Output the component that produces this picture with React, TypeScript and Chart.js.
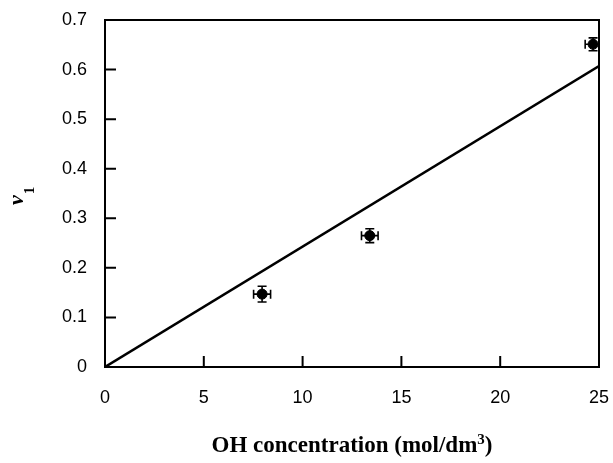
import React, { useEffect, useRef } from "react";
import { Chart, registerables } from "chart.js";

Chart.register(...registerables);

const xVals = [7.95, 13.4, 24.7];
const yVals = [0.147, 0.265, 0.651];
const xErr = [0.43, 0.42, 0.4];
const yErr = [0.016, 0.014, 0.013];
const fitX = [0, 25];
const fitY = [0, 0.607];
const xTicks = [0, 5, 10, 15, 20, 25];
const yTicks = [0, 0.1, 0.2, 0.3, 0.4, 0.5, 0.6, 0.7];
const xTitleMain = "OH concentration (mol/dm";
const xTitleSup = "3";
const xTitleEnd = ")";
const yTitleMain = "ν";
const yTitleSub = "1";

const framePlugin = {
  id: "frameAndTicks",
  afterDatasetsDraw(chart: any) {
    const { ctx, chartArea: a, scales } = chart;
    const xs = scales.x;
    const ys = scales.y;
    ctx.save();
    ctx.strokeStyle = "#000";
    ctx.lineWidth = 2;
    ctx.beginPath();
    ctx.rect(a.left, a.top, a.right - a.left, a.bottom - a.top);
    ctx.stroke();
    ctx.lineWidth = 2;
    ctx.beginPath();
    xTicks.forEach((t) => {
      if (t === xTicks[0] || t === xTicks[xTicks.length - 1]) return;
      const px = xs.getPixelForValue(t);
      ctx.moveTo(px, a.bottom);
      ctx.lineTo(px, a.bottom - 11);
    });
    yTicks.forEach((t) => {
      if (t === yTicks[0] || t === yTicks[yTicks.length - 1]) return;
      const py = ys.getPixelForValue(t);
      ctx.moveTo(a.left, py);
      ctx.lineTo(a.left + 11, py);
    });
    ctx.stroke();
    ctx.restore();
  },
};

const errorBarPlugin = {
  id: "errorBars",
  beforeDatasetsDraw(chart: any) {
    const { ctx, scales } = chart;
    const xs = scales.x;
    const ys = scales.y;
    ctx.save();
    ctx.strokeStyle = "#000";
    ctx.lineWidth = 1.6;
    const cap = 4.5;
    xVals.forEach((xv, i) => {
      const yv = yVals[i];
      const px = xs.getPixelForValue(xv);
      const py = ys.getPixelForValue(yv);
      const x0 = xs.getPixelForValue(xv - xErr[i]);
      const x1 = Math.min(xs.getPixelForValue(xv + xErr[i]), chart.chartArea.right);
      const y0 = ys.getPixelForValue(yv - yErr[i]);
      const y1 = ys.getPixelForValue(yv + yErr[i]);
      ctx.beginPath();
      ctx.moveTo(x0, py);
      ctx.lineTo(x1, py);
      ctx.moveTo(x0, py - cap);
      ctx.lineTo(x0, py + cap);
      if (x1 < chart.chartArea.right) {
        ctx.moveTo(x1, py - cap);
        ctx.lineTo(x1, py + cap);
      }
      ctx.moveTo(px, y0);
      ctx.lineTo(px, y1);
      ctx.moveTo(px - cap, y0);
      ctx.lineTo(px + cap, y0);
      ctx.moveTo(px - cap, y1);
      ctx.lineTo(px + cap, y1);
      ctx.stroke();
    });
    ctx.restore();
  },
};

const serif = "'Liberation Serif', 'Times New Roman', serif";

const titlePlugin = {
  id: "axisTitles",
  afterDraw(chart: any) {
    const { ctx, chartArea: a } = chart;
    ctx.save();
    ctx.fillStyle = "#000";
    ctx.textBaseline = "alphabetic";
    ctx.textAlign = "left";
    const mainFont = `bold 23px ${serif}`;
    const supFont = `bold 15px ${serif}`;
    ctx.font = mainFont;
    const w1 = ctx.measureText(xTitleMain).width;
    const w3 = ctx.measureText(xTitleEnd).width;
    ctx.font = supFont;
    const w2 = ctx.measureText(xTitleSup).width;
    const total = w1 + w2 + w3;
    let x = (a.left + a.right) / 2 - total / 2;
    const base = 452;
    ctx.font = mainFont;
    ctx.fillText(xTitleMain, x, base);
    x += w1;
    ctx.font = supFont;
    ctx.fillText(xTitleSup, x, base - 8);
    x += w2;
    ctx.font = mainFont;
    ctx.fillText(xTitleEnd, x, base);

    ctx.translate(23, 205);
    ctx.rotate(-Math.PI / 2);
    ctx.font = `italic bold 22px ${serif}`;
    ctx.fillText(yTitleMain, 0, 0);
    const w = ctx.measureText(yTitleMain).width;
    ctx.font = `bold 15px ${serif}`;
    ctx.fillText(yTitleSub, w + 1, 11);
    ctx.restore();
  },
};

const zeroPad = (s: any) => {
  s.paddingLeft = 0;
  s.paddingRight = 0;
  s.paddingTop = 0;
  s.paddingBottom = 0;
};

export default function App() {
  const ref = useRef<HTMLCanvasElement | null>(null);
  useEffect(() => {
    if (!ref.current) return;
    const tickFont = { family: "'Liberation Sans', Arial, sans-serif", size: 18 };
    const chart = new Chart(ref.current, {
      type: "scatter",
      data: {
        datasets: [
          {
            type: "line",
            data: fitX.map((x, i) => ({ x, y: fitY[i] })),
            borderColor: "#000",
            borderWidth: 2.5,
            pointRadius: 0,
            fill: false,
          } as any,
          {
            data: xVals.map((x, i) => ({ x, y: yVals[i] })),
            backgroundColor: "#000",
            borderColor: "#000",
            pointRadius: 5,
            pointStyle: "circle",
          },
        ],
      },
      options: {
        animation: false,
        responsive: false,
        events: [],
        layout: { padding: { top: 20, right: 14, left: 0, bottom: 0 } },
        plugins: { legend: { display: false }, tooltip: { enabled: false } },
        scales: {
          x: {
            type: "linear",
            min: 0,
            max: 25,
            afterBuildTicks: (s: any) => {
              s.ticks = xTicks.map((v) => ({ value: v }));
            },
            afterFit: (s: any) => {
              s.height = 96;
              zeroPad(s);
            },
            grid: { display: false, drawTicks: false },
            border: { display: true, color: "#000", width: 2 },
            ticks: {
              color: "#000",
              font: tickFont,
              padding: 20,
              maxRotation: 0,
              callback: (v: any) => String(v),
            },
          },
          y: {
            type: "linear",
            min: 0,
            max: 0.7,
            afterBuildTicks: (s: any) => {
              s.ticks = yTicks.map((v) => ({ value: v }));
            },
            afterFit: (s: any) => {
              s.width = 105;
              zeroPad(s);
            },
            grid: { display: false, drawTicks: false },
            border: { display: true, color: "#000", width: 2 },
            ticks: {
              color: "#000",
              font: tickFont,
              padding: 18,
              callback: (v: any) => String(Math.round(Number(v) * 10) / 10),
            },
          },
        },
      },
      plugins: [errorBarPlugin, framePlugin, titlePlugin],
    });
    return () => chart.destroy();
  }, []);
  return (
    <div style={{ position: "fixed", left: 0, top: 0, width: 613, height: 463, background: "#fff" }}>
      <canvas ref={ref} width={613} height={463} style={{ display: "block" }} />
    </div>
  );
}
